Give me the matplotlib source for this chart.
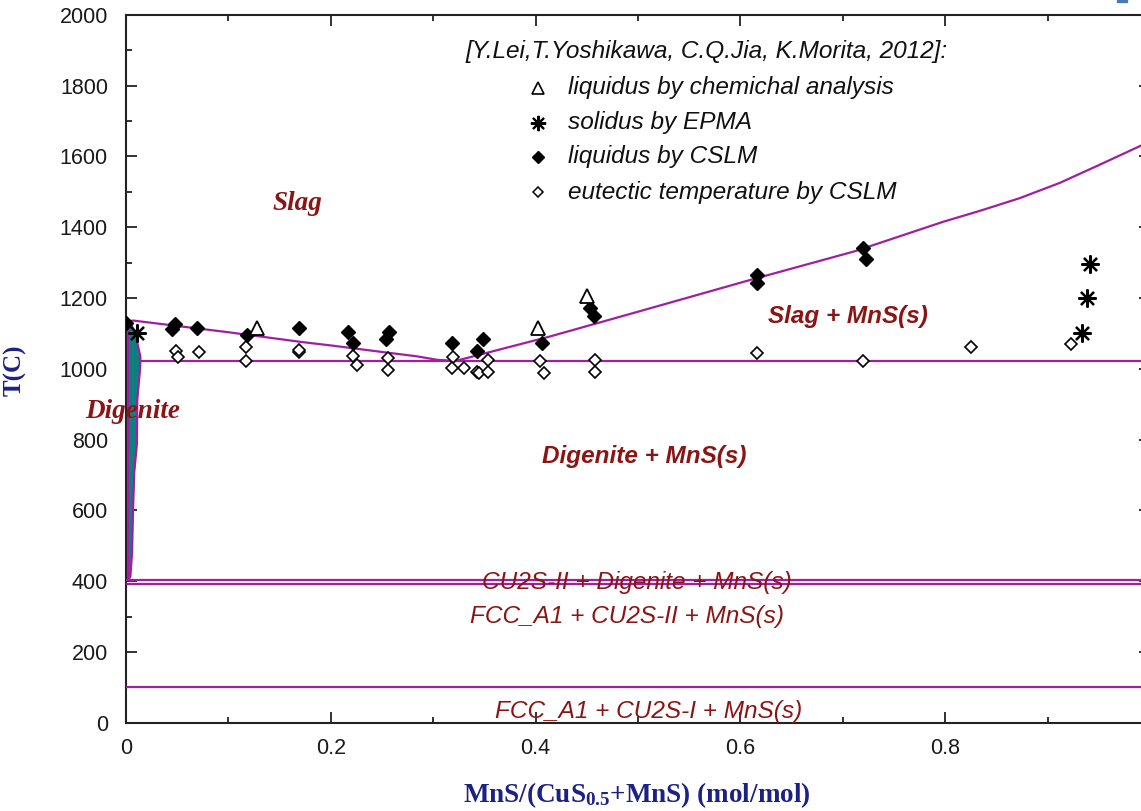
import matplotlib
matplotlib.use('Agg')
import matplotlib.pyplot as plt
from matplotlib.ticker import MultipleLocator
from matplotlib.patches import Rectangle

# ---------------- data ----------------
liq_left_x = [0.002, 0.007, 0.024, 0.10, 0.17, 0.202, 0.248, 0.284, 0.304, 0.322]
liq_left_T = [1133, 1136, 1130, 1103, 1076, 1065, 1048, 1035, 1025, 1022]
liq_right_x = [0.322, 0.35, 0.414, 0.50, 0.61, 0.712, 0.798, 0.834, 0.873, 0.912, 0.95, 1.0]
liq_right_T = [1022, 1043, 1091, 1161, 1251, 1332, 1415, 1446, 1482, 1525, 1575, 1642]

eutectic_T = 1022
eutectic_x0 = 0.0146
transition_T = [404, 392, 100]

dig_T = [1131, 1100, 1034, 1006, 912, 790, 706, 593, 480, 412, 404]
dig_x = [0.004, 0.009, 0.014, 0.0139, 0.011, 0.0107, 0.008, 0.0068, 0.0059, 0.0042, 0.002]
dig_left_x = 0.0015

tri_x = [0.128, 0.402, 0.450]
tri_T = [1115, 1115, 1206]

ast_x = [0.0107, 0.934, 0.938, 0.941]
ast_T = [1100, 1100, 1201, 1296]

fd_x = [0.0, 0.048, 0.045, 0.069, 0.118, 0.169, 0.217, 0.222, 0.257, 0.254,
        0.318, 0.349, 0.343, 0.406, 0.453, 0.457, 0.616, 0.616, 0.720, 0.723]
fd_T = [1130, 1127, 1112, 1114, 1096, 1115, 1105, 1074, 1105, 1083,
        1074, 1083, 1051, 1072, 1171, 1149, 1265, 1242, 1341, 1310]

od_x = [0.049, 0.051, 0.071, 0.117, 0.117, 0.169, 0.169, 0.222, 0.226, 0.256, 0.256,
        0.319, 0.318, 0.330, 0.343, 0.345, 0.354, 0.354, 0.404, 0.408, 0.458, 0.458,
        0.616, 0.720, 0.825, 0.923]
od_T = [1051, 1034, 1048, 1061, 1022, 1047, 1052, 1036, 1011, 1031, 997,
        1034, 1001, 1001, 992, 988, 1025, 992, 1023, 987, 1025, 990,
        1044, 1023, 1061, 1070]

legend_title = "[Y.Lei,T.Yoshikawa, C.Q.Jia, K.Morita, 2012]:"
legend_labels = ["liquidus by chemichal analysis", "solidus by EPMA",
                 "liquidus by CSLM", "eutectic temperature by CSLM"]

region_labels = ["Slag", "Digenite", "Slag + MnS(s)", "Digenite + MnS(s)",
                 "CU2S-II + Digenite + MnS(s)", "FCC_A1 + CU2S-II + MnS(s)",
                 "FCC_A1 + CU2S-I + MnS(s)"]
region_x = [0.167, 0.006, 0.705, 0.506, 0.499, 0.489, 0.510]
region_T = [1468, 880, 1147, 753, 396, 299, 33]

# ---------------- style ----------------
purple = '#a01fa0'
teal = '#0f8080'
dred = '#8b1515'
navy = '#1c2283'

plt.rcParams['font.family'] = ['Liberation Sans', 'DejaVu Sans']
plt.rcParams['mathtext.fontset'] = 'custom'
plt.rcParams['mathtext.rm'] = 'Liberation Serif:bold'
plt.rcParams['mathtext.it'] = 'Liberation Serif:italic:bold'
plt.rcParams['mathtext.bf'] = 'Liberation Serif:bold'

fig = plt.figure(figsize=(11.41, 8.11), dpi=100)
ax = fig.add_axes([126 / 1141, 1 - 722.7 / 811, 1024 / 1141, 708 / 811])
ax.set_xlim(0, 1)
ax.set_ylim(0, 2000)

# phase boundaries
ax.fill_betweenx(dig_T, [dig_left_x] * len(dig_T), dig_x, color=teal, lw=0, zorder=2)
ax.plot(dig_x, dig_T, color=purple, lw=1.6, zorder=3)
ax.plot([dig_left_x, dig_left_x], [dig_T[-1], dig_T[0]], color=purple, lw=1.6, zorder=3)
ax.plot(liq_left_x, liq_left_T, color=purple, lw=1.6, zorder=3)
ax.plot(liq_right_x, liq_right_T, color=purple, lw=1.6, zorder=3)
ax.plot([eutectic_x0, 1.0], [eutectic_T, eutectic_T], color=purple, lw=1.6, zorder=3)
for t in transition_T:
    ax.plot([0, 1.0], [t, t], color=purple, lw=1.6, zorder=3)

# experimental points
od_style = dict(marker='D', ms=6.5, mfc='white', mec='black', mew=1.2)
fd_style = dict(marker='D', ms=7, mfc='black', mec='black', mew=1.0)
tri_style = dict(marker='^', ms=10.5, mfc='white', mec='black', mew=1.3)
ast_style = dict(marker=(8, 2, 0), ms=13, mec='black', mew=1.6)
ax.plot(od_x, od_T, ls='none', zorder=5, **od_style)
ax.plot(fd_x, fd_T, ls='none', zorder=6, **fd_style)
ax.plot(tri_x, tri_T, ls='none', zorder=6, **tri_style)
ax.plot(ast_x, ast_T, ls='none', zorder=6, **ast_style)

# region labels
fonts = [dict(family='Liberation Serif', weight='bold', style='italic', size=19.5),
         dict(family='Liberation Serif', weight='bold', style='italic', size=19.5),
         dict(family='Liberation Sans', weight='bold', style='italic', size=17.5),
         dict(family='Liberation Sans', weight='bold', style='italic', size=17.5),
         dict(family='Liberation Sans', style='italic', size=17.6),
         dict(family='Liberation Sans', style='italic', size=17.6),
         dict(family='Liberation Sans', style='italic', size=17.6)]
for lab, x, t, f in zip(region_labels, region_x, region_T, fonts):
    ax.text(x, t, lab, color=dred, ha='center', va='center', zorder=7, **f)

# legend (manual)
ax.text(0.3314, 0.9477, legend_title, transform=ax.transAxes, style='italic',
        size=17.6, ha='left', va='center', color='#111111')
leg_y = [0.8969, 0.8475, 0.7994, 0.7492]
leg_style = [dict(marker='^', ms=8, mfc='white', mec='black', mew=1.2),
             dict(marker=(8, 2, 0), ms=11, mec='black', mew=1.5),
             dict(marker='D', ms=6.5, mfc='black', mec='black'),
             dict(marker='D', ms=5.5, mfc='white', mec='black', mew=1.1)]
for lab, y, st in zip(legend_labels, leg_y, leg_style):
    ax.plot([0.4026], [y], ls='none', transform=ax.transAxes, clip_on=False, **st)
    ax.text(0.4319, y, lab, transform=ax.transAxes, style='italic', size=17.6,
            ha='left', va='center', color='#111111')

# axes styling
for s in ax.spines.values():
    s.set_linewidth(1.5)
    s.set_color('#222222')
ax.xaxis.set_major_locator(MultipleLocator(0.2))
ax.xaxis.set_minor_locator(MultipleLocator(0.1))
ax.yaxis.set_major_locator(MultipleLocator(200))
ax.yaxis.set_minor_locator(MultipleLocator(100))
ax.tick_params(which='both', direction='in', top=True, right=True, color='#222222', width=1.3)
ax.tick_params(which='major', length=8)
ax.tick_params(which='minor', length=4)
ax.tick_params(axis='y', which='major', pad=13, labelsize=15.5, labelcolor='#1a1a1a')
ax.tick_params(axis='x', which='major', pad=11, labelsize=15.5, labelcolor='#1a1a1a')
ax.set_xticks([0, 0.2, 0.4, 0.6, 0.8])
ax.set_xticklabels(['0', '0.2', '0.4', '0.6', '0.8'])

fig.text(15 / 1141, 1 - 370 / 811, 'T(C)', rotation=90, ha='center', va='center',
         family='Liberation Serif', weight='bold', size=18, color=navy)
fig.text(637 / 1141, 1 - 795 / 811, r'MnS/(CuS$_{0.5}$+MnS) (mol/mol)', ha='center', va='center',
         family='Liberation Serif', weight='bold', size=19.5, color=navy)

fig.patches.append(Rectangle((1117 / 1141, 1 - 2 / 811), 10 / 1141, 2 / 811,
                             transform=fig.transFigure, color='#4a78b0', zorder=10))

fig.savefig('out.png', dpi=100)
